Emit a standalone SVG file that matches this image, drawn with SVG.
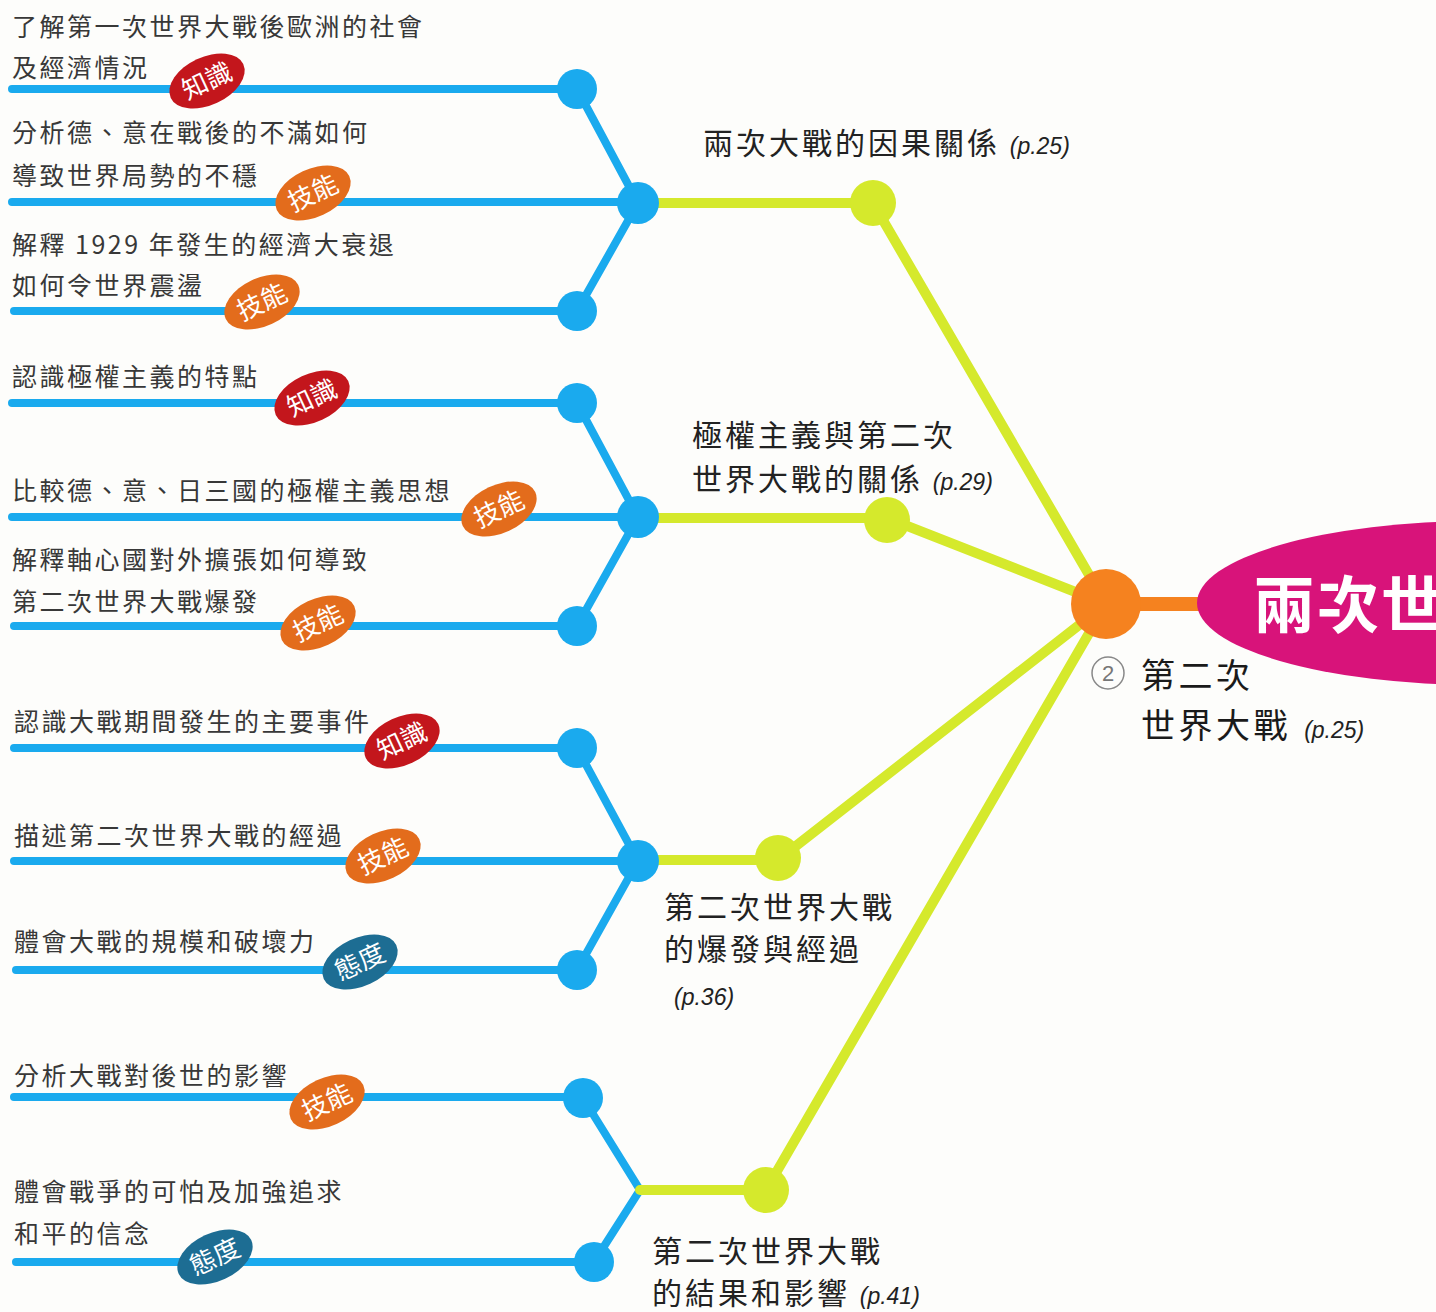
<svg xmlns="http://www.w3.org/2000/svg" width="1436" height="1312" viewBox="0 0 1436 1312">
<style>
.bl{stroke:#1aaaee;stroke-width:8;fill:none;stroke-linecap:round}
.yl{stroke:#d5e92c;stroke-width:10;fill:none;stroke-linecap:round}
.bd{fill:#1aaaee}
.yd{fill:#d5e92c}
.t{font-family:"Noto Sans CJK TC","Noto Sans CJK SC",sans-serif;font-size:25px;fill:#383838;letter-spacing:2.5px}
.m{font-family:"Noto Sans CJK TC","Noto Sans CJK SC",sans-serif;font-size:30px;fill:#222;letter-spacing:3px}
.h{font-family:"Noto Sans CJK TC","Noto Sans CJK SC",sans-serif;font-size:34px;fill:#1a1a1a;letter-spacing:3.5px}
.p{font-family:"Liberation Sans",Arial,sans-serif;font-style:italic;font-size:23px;fill:#222;letter-spacing:0}
.bt{font-family:"Noto Sans CJK TC","Noto Sans CJK SC",sans-serif;font-size:26px;fill:#fff;text-anchor:middle}
.kn{fill:#c3161c}
.sk{fill:#e36c1c}
.at{fill:#1d6d93}
</style>
<rect width="1436" height="1312" fill="#fdfdfb"/>
<g id="connectors">
  <path class="bl" d="M12 89H577 M12 202H638 M14 311H577 M577 89L638 203L577 311"/>
  <path class="bl" d="M12 403H577 M12 517H638 M14 626H577 M577 403L638 517L577 626"/>
  <path class="bl" d="M14 748H577 M14 861H638 M16 970H577 M577 748L638 861L577 970"/>
  <path class="bl" d="M14 1097H583 M16 1262H594 M583 1098L640 1190L594 1262"/>
  <path class="yl" d="M638 203H873 L1106 604"/>
  <path class="yl" d="M638 518H887 L1106 604"/>
  <path class="yl" d="M638 860H778 L1106 604"/>
  <path class="yl" d="M640 1190H766 L1106 604"/>
  <path d="M1106 604H1205" stroke="#f5821f" stroke-width="14"/>
</g>
<g id="root">
  <ellipse cx="1480" cy="603" rx="283" ry="82" fill="#d8137a"/>
  <text x="1253" y="628" font-family="Noto Sans CJK TC,sans-serif" font-size="62" font-weight="bold" fill="#fff" letter-spacing="2">兩次世</text>
</g>
<g id="hub">
  <circle cx="1106" cy="604" r="35" fill="#f5821f"/>
  <circle cx="1108" cy="673" r="16" fill="none" stroke="#888" stroke-width="1.5"/>
  <text x="1108" y="681" font-family="Liberation Sans,Arial,sans-serif" font-size="22" fill="#777" text-anchor="middle">2</text>
  <text class="h" x="1141" y="688">第二次</text>
  <text class="h" x="1141" y="738">世界大戰 <tspan class="p" dx="2">(p.25)</tspan></text>
</g>
<g id="topic1">
  <circle class="yd" cx="873" cy="203" r="23"/>
  <text class="m" x="703" y="154">兩次大戰的因果關係 <tspan class="p">(p.25)</tspan></text>
  <circle class="bd" cx="638" cy="203" r="21"/>
</g>
<g id="topic2">
  <circle class="yd" cx="887" cy="520" r="23"/>
  <text class="m" x="692" y="446">極權主義與第二次</text>
  <text class="m" x="692" y="490">世界大戰的關係 <tspan class="p">(p.29)</tspan></text>
  <circle class="bd" cx="638" cy="517" r="21"/>
</g>
<g id="topic3">
  <circle class="yd" cx="778" cy="858" r="23"/>
  <text class="m" x="664" y="918">第二次世界大戰</text>
  <text class="m" x="664" y="960">的爆發與經過</text>
  <text class="p" x="674" y="1005">(p.36)</text>
  <circle class="bd" cx="638" cy="861" r="21"/>
</g>
<g id="topic4">
  <circle class="yd" cx="766" cy="1190" r="23"/>
  <text class="m" x="652" y="1262">第二次世界大戰</text>
  <text class="m" x="652" y="1304">的結果和影響 <tspan class="p">(p.41)</tspan></text>
</g>
<g id="leaf1">
  <circle class="bd" cx="577" cy="89" r="20"/>
  <text class="t" x="12" y="36">了解第一次世界大戰後歐洲的社會</text>
  <text class="t" x="12" y="77">及經濟情況</text>
  <g transform="translate(207,81) rotate(-25)"><ellipse class="kn" rx="40" ry="24"/><text class="bt" y="9">知識</text></g>
</g>
<g id="leaf2">
  <text class="t" x="12" y="142">分析德、意在戰後的不滿如何</text>
  <text class="t" x="12" y="185">導致世界局勢的不穩</text>
  <g transform="translate(313,193) rotate(-25)"><ellipse class="sk" rx="40" ry="24"/><text class="bt" y="9">技能</text></g>
</g>
<g id="leaf3">
  <circle class="bd" cx="577" cy="311" r="20"/>
  <text class="t" x="12" y="254">解釋 1929 年發生的經濟大衰退</text>
  <text class="t" x="12" y="295">如何令世界震盪</text>
  <g transform="translate(262,302) rotate(-25)"><ellipse class="sk" rx="40" ry="24"/><text class="bt" y="9">技能</text></g>
</g>
<g id="leaf4">
  <circle class="bd" cx="577" cy="403" r="20"/>
  <text class="t" x="12" y="386">認識極權主義的特點</text>
  <g transform="translate(312,398) rotate(-25)"><ellipse class="kn" rx="40" ry="24"/><text class="bt" y="9">知識</text></g>
</g>
<g id="leaf5">
  <text class="t" x="12" y="500">比較德、意、日三國的極權主義思想</text>
  <g transform="translate(499,509) rotate(-25)"><ellipse class="sk" rx="40" ry="24"/><text class="bt" y="9">技能</text></g>
</g>
<g id="leaf6">
  <circle class="bd" cx="577" cy="626" r="20"/>
  <text class="t" x="12" y="569">解釋軸心國對外擴張如何導致</text>
  <text class="t" x="12" y="611">第二次世界大戰爆發</text>
  <g transform="translate(318,623) rotate(-25)"><ellipse class="sk" rx="40" ry="24"/><text class="bt" y="9">技能</text></g>
</g>
<g id="leaf7">
  <circle class="bd" cx="577" cy="748" r="20"/>
  <text class="t" x="14" y="731">認識大戰期間發生的主要事件</text>
  <g transform="translate(402,741) rotate(-25)"><ellipse class="kn" rx="40" ry="24"/><text class="bt" y="9">知識</text></g>
</g>
<g id="leaf8">
  <text class="t" x="14" y="845">描述第二次世界大戰的經過</text>
  <g transform="translate(383,856) rotate(-25)"><ellipse class="sk" rx="40" ry="24"/><text class="bt" y="9">技能</text></g>
</g>
<g id="leaf9">
  <circle class="bd" cx="577" cy="970" r="20"/>
  <text class="t" x="14" y="951">體會大戰的規模和破壞力</text>
  <g transform="translate(360,962) rotate(-25)"><ellipse class="at" rx="40" ry="24"/><text class="bt" y="9">態度</text></g>
</g>
<g id="leaf10">
  <circle class="bd" cx="583" cy="1098" r="20"/>
  <text class="t" x="14" y="1085">分析大戰對後世的影響</text>
  <g transform="translate(327,1102) rotate(-25)"><ellipse class="sk" rx="40" ry="24"/><text class="bt" y="9">技能</text></g>
</g>
<g id="leaf11">
  <circle class="bd" cx="594" cy="1262" r="20"/>
  <text class="t" x="14" y="1201">體會戰爭的可怕及加強追求</text>
  <text class="t" x="14" y="1243">和平的信念</text>
  <g transform="translate(215,1257) rotate(-25)"><ellipse class="at" rx="40" ry="24"/><text class="bt" y="9">態度</text></g>
</g>
</svg>
